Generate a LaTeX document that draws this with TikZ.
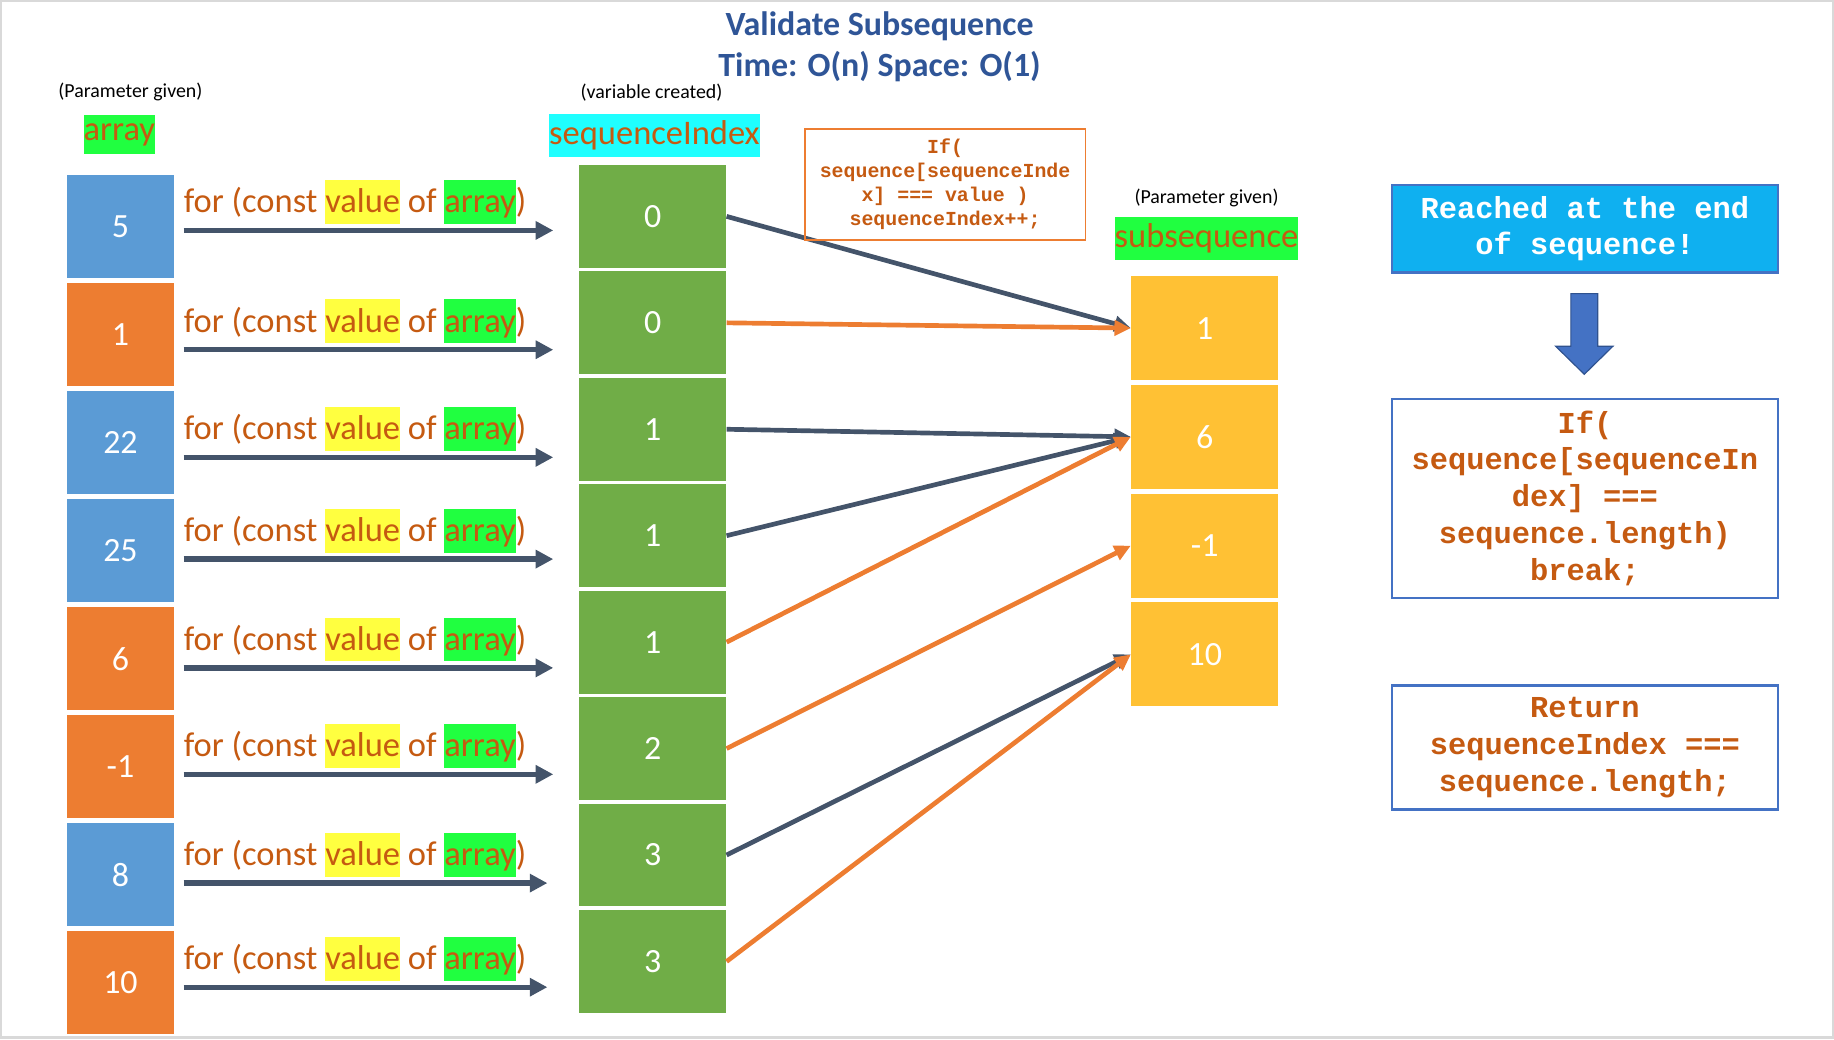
\documentclass[tikz,border=0pt]{standalone}
\usepackage{fontspec}
\setmainfont{Carlito}
\newfontfamily\codefont{Liberation Mono}
\usetikzlibrary{arrows.meta,positioning}

\definecolor{slate}{HTML}{44546A}
\definecolor{lineorange}{HTML}{ED7D31}
\definecolor{cellblue}{HTML}{5B9BD5}
\definecolor{cellorange}{HTML}{ED7D31}
\definecolor{cellgreen}{HTML}{70AD47}
\definecolor{cellyellow}{HTML}{FFC134}
\definecolor{codeorange}{HTML}{C55A11}
\definecolor{hlgreen}{HTML}{20FF40}
\definecolor{hlyellow}{HTML}{FFFF40}
\definecolor{hlcyan}{HTML}{1FFFFF}
\definecolor{titleblue}{HTML}{2F5597}
\definecolor{boxblue}{HTML}{4472C4}
\definecolor{arrowedge}{HTML}{2F528F}
\definecolor{sky}{HTML}{0FB0F0}

\newcommand{\hlword}[2]{{\setlength{\fboxsep}{0pt}\colorbox{#1}{\rule[-9.4pt]{0pt}{37.4pt}#2}}}

\begin{document}
\begin{tikzpicture}[x=1pt, y=-1pt,
  cell/.style={minimum width=92pt, minimum height=88pt, inner sep=0pt, text=white, font=\fontsize{29}{34}\selectfont},
  hdr/.style={inner xsep=0pt, inner ysep=0pt, minimum height=37pt, text=codeorange, font=\fontsize{29.5}{34}\selectfont},
  note/.style={inner sep=0pt, font=\fontsize{17}{20}\selectfont},
  looptxt/.style={inner sep=0pt, anchor=base west, text=codeorange, font=\fontsize{29.5}{34}\selectfont},
  flow/.style={draw=slate, line width=4.5pt, -{Triangle[length=15pt,width=15pt]}},
  link/.style={line width=4pt, -{Triangle[length=14pt,width=13pt]}},
  codebox/.style={draw=lineorange, line width=1.5pt, align=center, inner sep=0pt, text=codeorange, font=\codefont\bfseries\fontsize{17}{20.5}\selectfont},
  rbox/.style={draw=boxblue, line width=2pt, align=center, inner sep=0pt, minimum width=330pt, text=codeorange, font=\codefont\bfseries\fontsize{26}{31.5}\selectfont}]
\useasboundingbox (0,0) rectangle (1568,889);
\draw[black!15, line width=2pt] (1,1) rectangle (1567,887);

% title
\node[align=center, text=titleblue, font=\bfseries\fontsize{29}{35}\selectfont] (title) at (752,40) {Validate Subsequence\\Time: O(n) Space: O(1)};

% headers
\node[note] (arrnote) at (111.5,79) {(Parameter given)};
\node[hdr, fill=hlgreen, minimum height=34pt] (arrhdr) at (102,115) {array};
\node[note] (idxnote) at (557,79) {(variable created)};
\node[hdr, fill=hlcyan] (idxhdr) at (559.5,116) {sequenceIndex};
\node[note] (subnote) at (1031.5,169) {(Parameter given)};
\node[hdr, fill=hlgreen] (subhdr) at (1031.5,204) {subsequence};

% array cells
\foreach \v/\c [count=\i from 0] in {5/cellblue, 1/cellorange, 22/cellblue, 25/cellblue, 6/cellorange, -1/cellorange, 8/cellblue, 10/cellorange}
  \node[cell, fill=\c] (arr\i) at (103,{194+92.3*\i}) {\v};

% loop arrows
\foreach \i/\y/\e in {0/197/473, 1/299/473, 2/391/473, 3/478/473, 4/571/473, 5/662/473, 6/755/468, 7/844/468} {
  \coordinate (from\i) at (157,\y);
  \coordinate (to\i) at (\e,\y);
  \draw[flow] (from\i) -- (to\i);
  \node[looptxt] (loop\i) at (157,\y-15) {for (const \hlword{hlyellow}{value} of \hlword{hlgreen}{array})};
}

% sequenceIndex cells
\foreach \v [count=\i from 0] in {0,0,1,1,1,2,3,3}
  \node[cell, fill=cellgreen, minimum width=126pt] (idx\i) at (558,{185+91*\i}) {\v};

% subsequence cells
\foreach \v [count=\i from 0] in {1,6,-1,10}
  \node[cell, fill=cellyellow, minimum width=126pt, minimum height=89pt] (sub\i) at (1030,{280.5+93*\i}) {\v};

% matches
\foreach \f/\t/\c in {0/0/slate, 1/0/lineorange, 2/1/slate, 3/1/slate, 4/1/lineorange, 5/2/lineorange, 6/3/slate, 7/3/lineorange}
  \draw[link, draw=\c] (idx\f.east) -- (sub\t.west);

% condition
\node[codebox, minimum width=240pt, minimum height=95pt] (cond) at (808,157.5) {If(\\sequence[sequenceInde\\x] === value )\\sequenceIndex++;};

% right side
\node[rbox, fill=sky, text=white, minimum height=75pt] (reached) at (1355,195.5) {Reached at the end\\of sequence!};
\node[rbox, minimum height=170pt] (brk) at (1355,426) {If(\\sequence[sequenceIn\\dex] ===\\sequence.length)\\break;};
\node[rbox, minimum height=106pt] (ret) at (1355,639) {Return\\sequenceIndex ===\\sequence.length;};
\draw[fill=boxblue, draw=arrowedge, line width=1pt] (1343,251) -- (1366,251) -- (1366,296) -- (1379,296) -- (1354.5,320) -- (1330,296) -- (1343,296) -- cycle;
\end{tikzpicture}
\end{document}
